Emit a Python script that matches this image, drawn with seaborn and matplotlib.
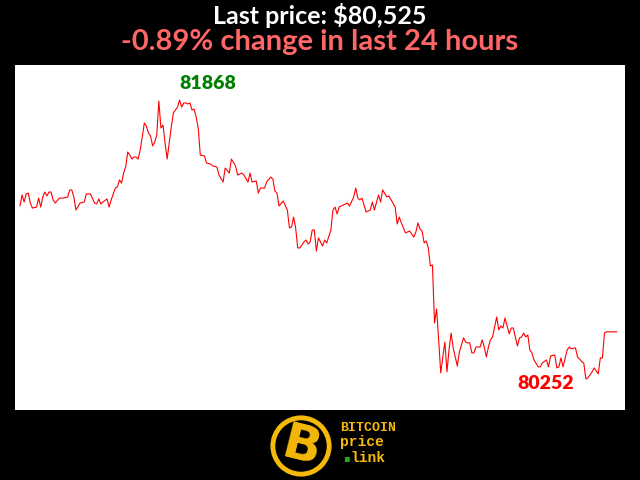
import numpy as np
import pandas as pd
import seaborn as sns
import matplotlib.pyplot as plt
from matplotlib.patches import Circle

# last 24 hours, index = 5-minute interval since start
interval = [0, 1, 2, 3, 4, 5, 6, 8, 9, 10,
            11, 12, 13, 14, 15, 16, 17, 19, 21, 23,
            24, 25, 26, 27, 29, 31, 32, 34, 36, 37,
            38, 39, 40, 42, 43, 44, 46, 47, 48, 49,
            50, 51, 52, 53, 54, 55, 56, 57, 58, 59,
            60, 61, 62, 63, 64, 65, 66, 67, 68, 69,
            70, 71, 72, 73, 74, 75, 76, 77, 78, 79,
            80, 81, 82, 83, 84, 85, 86, 87, 89, 90,
            92, 93, 95, 96, 98, 99, 101, 102, 104, 105,
            107, 108, 110, 111, 112, 114, 115, 116, 118, 119,
            121, 122, 123, 124, 125, 127, 129, 130, 131, 132,
            133, 134, 135, 137, 138, 139, 140, 141, 142, 143,
            144, 146, 147, 148, 150, 151, 152, 153, 154, 155,
            158, 159, 161, 162, 163, 164, 165, 167, 169, 170,
            171, 173, 174, 175, 177, 178, 181, 182, 183, 184,
            186, 188, 190, 191, 192, 193, 194, 195, 196, 197,
            198, 199, 200, 201, 202, 203, 204, 205, 206, 207,
            208, 209, 211, 212, 214, 215, 216, 217, 218, 219,
            220, 222, 223, 224, 225, 226, 227, 228, 230, 231,
            232, 233, 234, 235, 236, 237, 238, 239, 240, 241,
            242, 243, 244, 245, 246, 247, 248, 250, 251, 252,
            254, 255, 256, 258, 259, 260, 261, 262, 264, 265,
            266, 268, 269, 270, 271, 272, 273, 274, 276, 277,
            279, 280, 281, 282, 283, 285, 288]

price = [81254, 81318, 81277, 81324, 81329, 81271, 81242, 81248, 81300, 81248,
         81306, 81335, 81312, 81335, 81335, 81289, 81271, 81300, 81300, 81306,
         81347, 81347, 81306, 81231, 81271, 81277, 81324, 81324, 81271, 81266,
         81295, 81266, 81277, 81295, 81248, 81289, 81358, 81364, 81405, 81387,
         81445, 81480, 81567, 81549, 81526, 81538, 81538, 81526, 81578, 81654,
         81735, 81717, 81677, 81659, 81602, 81625, 81665, 81862, 81706, 81723,
         81619, 81526, 81619, 81712, 81793, 81810, 81827, 81868, 81827, 81851,
         81851, 81845, 81851, 81810, 81816, 81770, 81706, 81549, 81544, 81503,
         81497, 81486, 81480, 81434, 81393, 81474, 81445, 81526, 81486, 81434,
         81445, 81434, 81393, 81445, 81393, 81399, 81329, 81358, 81358, 81393,
         81422, 81410, 81341, 81329, 81254, 81283, 81231, 81127, 81132, 81190,
         81127, 81011, 81011, 81046, 81057, 81034, 81046, 81115, 81115, 80993,
         81069, 81022, 81057, 81040, 81115, 81231, 81248, 81208, 81248, 81254,
         81271, 81254, 81306, 81358, 81300, 81289, 81300, 81219, 81231, 81277,
         81231, 81318, 81277, 81347, 81306, 81312, 81248, 81150, 81190, 81156,
         81098, 81109, 81074, 81103, 81156, 81121, 81109, 81040, 81051, 81011,
         80907, 80912, 80576, 80657, 80478, 80287, 80379, 80466, 80293, 80420,
         80518, 80432, 80327, 80408, 80490, 80466, 80461, 80461, 80403, 80403,
         80437, 80437, 80478, 80437, 80379, 80437, 80478, 80495, 80611, 80536,
         80559, 80547, 80605, 80559, 80513, 80547, 80547, 80495, 80443, 80490,
         80495, 80518, 80495, 80507, 80420, 80403, 80362, 80322, 80322, 80345,
         80362, 80322, 80385, 80391, 80316, 80322, 80374, 80322, 80420, 80437,
         80426, 80432, 80379, 80368, 80351, 80345, 80252, 80258, 80293, 80316,
         80281, 80374, 80374, 80518, 80525, 80525, 80525]

change_pct = -0.89

df = pd.DataFrame({"interval": interval, "price": price})

sns.set_style("white")
plt.rcParams['font.family'] = ['Lato', 'DejaVu Sans']

fig = plt.figure(figsize=(6.4, 4.8), dpi=100, facecolor="black")
ax = fig.add_axes([15/640, 70/480, 610/640, 345/480])
ax.set_facecolor("white")

sns.lineplot(data=df, x="interval", y="price", color="red", linewidth=0.8, ax=ax)

ax.set_xlim(-2.4, 291.9)
ax.set_ylim(80072, 82071)
ax.set_xticks([])
ax.set_yticks([])
ax.set_xlabel("")
ax.set_ylabel("")
for s in ax.spines.values():
    s.set_visible(False)

# max / min labels
imax = df["price"].idxmax()
imin = df["price"].idxmin()
ax.annotate(str(df.price[imax]), (df.interval[imax], df.price[imax]),
            xytext=(0, 12), textcoords="offset points", ha="left", va="center",
            color="green", fontsize=14, fontweight="heavy")
ax.annotate(str(df.price[imin]), (df.interval[imin], df.price[imin]),
            xytext=(-8.5, -3), textcoords="offset points", ha="right", va="center",
            color="red", fontsize=14, fontweight="heavy")

# titles
last = price[-1]
fig.text(0.5, 1 - 16/480, f"Last price: ${last:,}", color="white",
         fontsize=18, fontweight="bold", ha="center", va="center")
fig.text(0.5, 1 - 42/480, f"{change_pct:.2f}% change in last 24 hours", color="#ff6666",
         fontsize=21, fontweight="bold", ha="center", va="center")

# logo
gold = "#f5b90a"
lax = fig.add_axes([269/640, 2/480, 64/640, 64/480])
lax.set_xlim(-1, 1)
lax.set_ylim(-1, 1)
lax.set_aspect("equal")
lax.axis("off")
lax.add_patch(Circle((0, 0), 0.88, facecolor="black", edgecolor=gold, linewidth=3.5))
lax.text(0.02, -0.02, "B", color=gold, fontsize=36, fontweight="heavy",
         family="DejaVu Sans", ha="center", va="center", rotation=-14)

mono = ["Liberation Mono", "DejaVu Sans Mono"]
fig.text(340/640, 1 - 428/480, "BITCOIN", color=gold, fontsize=9.5, fontweight="bold",
         family=mono, ha="left", va="center")
fig.text(340/640, 1 - 442/480, "price", color=gold, fontsize=10.5, fontweight="bold",
         family=mono, ha="left", va="center")
fig.text(350/640, 1 - 458/480, "link", color=gold, fontsize=10.5, fontweight="bold",
         family=mono, ha="left", va="center")
fig.text(343/640, 1 - 458/480, "\u25aa", color="#22aa22", fontsize=7,
         family="DejaVu Sans", ha="left", va="center")

plt.savefig("out.png", dpi=100, facecolor="black")
